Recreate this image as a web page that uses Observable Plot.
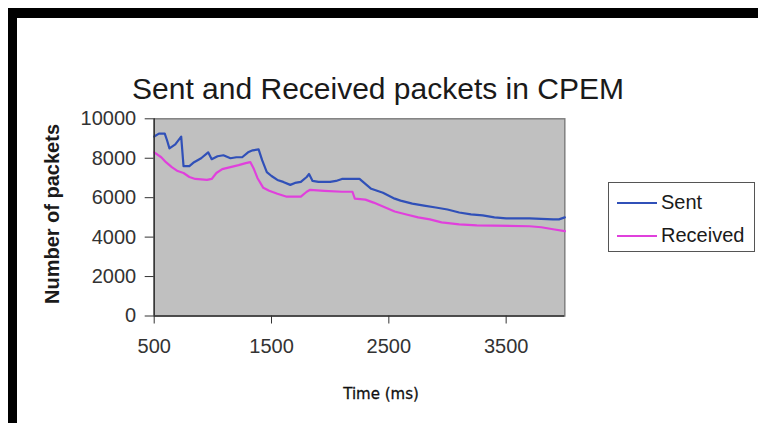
<!DOCTYPE html>
<html>
<head>
<meta charset="utf-8">
<script src="https://cdn.jsdelivr.net/npm/d3@7"></script>
<script src="https://cdn.jsdelivr.net/npm/@observablehq/plot@0.6"></script>
<style>
  html, body { margin: 0; padding: 0; background: #fff; }
  #wrap { position: relative; width: 758px; height: 423px; overflow: hidden; background: #fff; font-family: "Liberation Sans", Arial, sans-serif; }
  #chart { position: absolute; left: 0; top: 0; }
  .bar { position: absolute; background: #000; }
  #title { position: absolute; left: 0; top: 74px; width: 756px; text-align: center; font-size: 30px; line-height: 30px; color: #1a1a1a; }
  #ylab { position: absolute; left: 52px; top: 214px; transform: translate(-50%, -50%) rotate(-90deg); font-size: 20px; font-weight: bold; color: #1a1a1a; white-space: nowrap; line-height: 20px; }
  #xlab { position: absolute; left: 381px; top: 385px; transform: translateX(-50%); font-family: "DejaVu Sans", Verdana, sans-serif; font-size: 15px; line-height: 18px; color: #111; white-space: nowrap; -webkit-text-stroke: 0.3px #111; }
  #legend { position: absolute; left: 608px; top: 182px; width: 145px; height: 68px; border: 1.5px solid #555; background: #fff; }
  .lrow { position: absolute; left: 8px; height: 24px; font-size: 20px; line-height: 24px; color: #1a1a1a; white-space: nowrap; }
  .lrow span.sw { display: inline-block; width: 40px; height: 2px; vertical-align: middle; margin-right: 4px; position: relative; top: -1px; }
</style>
</head>
<body>
<div id="wrap">
  <div id="chart"></div>
  <div class="bar" style="left:8px;top:8px;width:750px;height:10px;"></div>
  <div class="bar" style="left:8px;top:8px;width:9px;height:415px;"></div>
  <div id="title">Sent and Received packets in CPEM</div>
  <div id="ylab">Number of packets</div>
  <div id="xlab">Time (ms)</div>
  <div id="legend"></div>
</div>
<script>
// ---- data ----
const seriesNames = ["Sent", "Received"];
const seriesColors = ["#3050b8", "#e040dc"];

const sentTime = [500, 540, 590, 610, 630, 680, 730, 750, 800, 840, 900, 960, 990, 1040, 1090, 1150, 1200, 1250, 1300, 1340, 1390, 1420, 1460, 1500, 1550, 1600, 1660, 1700, 1750, 1800, 1820, 1850, 1900, 2000, 2050, 2100, 2250, 2300, 2350, 2400, 2450, 2500, 2550, 2600, 2700, 2800, 2900, 3000, 3100, 3200, 3300, 3400, 3500, 3700, 3900, 3950, 4000];
const sentValue = [9100, 9250, 9250, 8900, 8500, 8700, 9100, 7600, 7600, 7800, 8000, 8300, 7950, 8100, 8150, 8000, 8050, 8050, 8300, 8400, 8450, 7900, 7300, 7100, 6900, 6800, 6650, 6750, 6800, 7050, 7200, 6850, 6800, 6800, 6850, 6950, 6950, 6700, 6450, 6350, 6250, 6100, 5950, 5850, 5700, 5600, 5500, 5400, 5250, 5150, 5100, 5000, 4950, 4950, 4900, 4900, 5000];

const recvTime = [500, 560, 600, 650, 700, 750, 800, 850, 950, 990, 1030, 1080, 1150, 1220, 1280, 1320, 1350, 1380, 1430, 1480, 1550, 1630, 1750, 1800, 1830, 1950, 2100, 2190, 2210, 2300, 2370, 2450, 2550, 2650, 2750, 2850, 2950, 3100, 3250, 3700, 3800, 3900, 4000];
const recvValue = [8300, 8050, 7800, 7550, 7350, 7250, 7050, 6950, 6900, 6950, 7250, 7450, 7550, 7650, 7750, 7800, 7450, 7000, 6500, 6350, 6200, 6050, 6050, 6300, 6400, 6350, 6300, 6300, 5950, 5900, 5750, 5550, 5300, 5150, 5000, 4900, 4750, 4650, 4600, 4550, 4500, 4400, 4300];

const xTicks = [500, 1500, 2500, 3500];
const yTicks = [0, 2000, 4000, 6000, 8000, 10000];

// ---- build table ----
const rows = [
  ...sentTime.map((t, i) => ({series: seriesNames[0], time: t, value: sentValue[i]})),
  ...recvTime.map((t, i) => ({series: seriesNames[1], time: t, value: recvValue[i]}))
];

const chart = Plot.plot({
  width: 758,
  height: 423,
  marginLeft: 153.7,
  marginRight: 193.7,
  marginTop: 118.3,
  marginBottom: 107.5,
  style: {fontFamily: "'Liberation Sans', Arial, sans-serif", fontSize: "20px", color: "#333", background: "transparent"},
  x: {domain: [500, 4000]},
  y: {domain: [0, 10000]},
  color: {domain: seriesNames, range: seriesColors},
  marks: [
    Plot.frame({fill: "#c0c0c0", stroke: "#808080", strokeWidth: 1.5}),
    Plot.line(rows, {x: "time", y: "value", z: "series", stroke: "series", strokeWidth: 2.2, curve: "linear"}),
    Plot.ruleY([0], {stroke: "#333", strokeWidth: 1.5}),
    Plot.ruleX([500], {stroke: "#333", strokeWidth: 1.5}),
    Plot.axisY({ticks: yTicks, tickSize: 9, tickPadding: 9, label: null, tickFormat: d => String(d), stroke: "#333", fill: "#333"}),
    Plot.axisX({ticks: xTicks, tickSize: 8, tickPadding: 15, label: null, tickFormat: d => String(d), stroke: "#333", fill: "#333"})
  ]
});
document.getElementById("chart").appendChild(chart);

// legend from the same series arrays
const legend = document.getElementById("legend");
seriesNames.forEach((name, i) => {
  const row = document.createElement("div");
  row.className = "lrow";
  row.style.top = (7 + i * 33) + "px";
  const sw = document.createElement("span");
  sw.className = "sw";
  sw.style.background = seriesColors[i];
  row.appendChild(sw);
  row.appendChild(document.createTextNode(name));
  legend.appendChild(row);
});
</script>
</body>
</html>
